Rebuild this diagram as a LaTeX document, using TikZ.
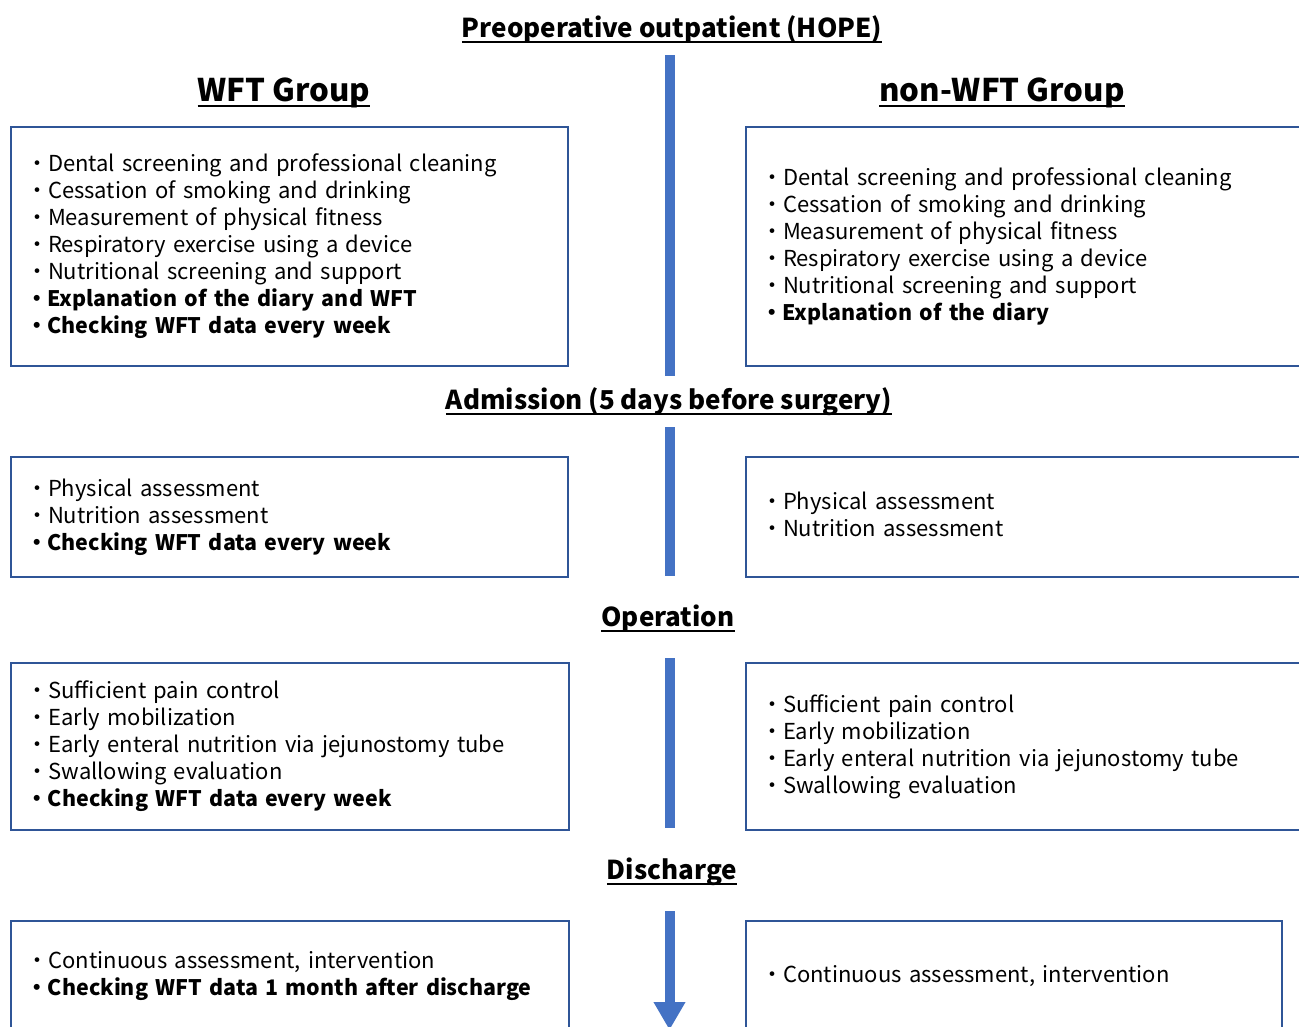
\documentclass[tikz,border=0pt]{standalone}
\usepackage{fontspec}
\setmainfont{Noto Sans CJK JP}
\usetikzlibrary{arrows.meta}
\definecolor{barblue}{HTML}{4472C4}
\definecolor{frameblue}{HTML}{2F5597}
\newcommand\ulined[1]{\setbox0\hbox{#1}\rlap{\rule[-6pt]{\wd0}{2pt}}\box0}
\newcommand\lnstrut{\rule[-5pt]{0pt}{21pt}}
\newcommand\boldln{\fontsize{21.4}{27}\selectfont\bfseries}
\begin{document}
\begin{tikzpicture}[
  x=1pt, y=-1pt,
  heading/.style={font=\fontsize{26}{32}\selectfont\bfseries, inner sep=0pt, anchor=base},
  group/.style={heading, font=\fontsize{31.2}{36}\selectfont\bfseries},
  panel/.style={draw=frameblue, line width=2pt, rectangle, inner xsep=15pt, inner ysep=0pt,
    align=left, font=\fontsize{22}{27}\selectfont,
    execute at begin node=\lnstrut, execute at end node=\lnstrut},
  lpanel/.style={panel, minimum width=557pt, text width=527pt},
  rpanel/.style={panel, minimum width=600pt, text width=570pt},
  bar/.style={draw=barblue, line width=10pt}
]
  \path[use as bounding box, clip] (0,0) rectangle (1299,1026);

  % stage headings
  \node[heading] (title) at (672,37) {\ulined{Preoperative outpatient (HOPE)}};
  \node[group] (wft) at (284,101) {\ulined{WFT Group}};
  \node[group] (nonwft) at (1002,101) {\ulined{non-WFT Group}};
  \node[heading] (admit) at (669,409) {\ulined{Admission (5 days before surgery)}};
  \node[heading] (oper) at (668,626) {\ulined{Operation}};
  \node[heading] (disch) at (672,879) {\ulined{Discharge}};

  % time line
  \coordinate (s1a) at (669.5,55);  \coordinate (s1b) at (669.5,376);
  \coordinate (s2a) at (669.5,427); \coordinate (s2b) at (669.5,576);
  \coordinate (s3a) at (669.5,658); \coordinate (s3b) at (669.5,828);
  \coordinate (s4a) at (669.5,911); \coordinate (s4b) at (669.5,1030);
  \draw[bar] (s1a) -- (s1b);
  \draw[bar] (s2a) -- (s2b);
  \draw[bar] (s3a) -- (s3b);
  \draw[bar, -{Triangle[length=28pt, width=30pt]}] (s4a) -- (s4b);

  % preoperative outpatient
  \node[lpanel, minimum height=239pt] (wpre) at (289.5,246.5) {%
    ・Dental screening and professional cleaning\\
    ・Cessation of smoking and drinking\\
    ・Measurement of physical fitness\\
    ・Respiratory exercise using a device\\
    ・Nutritional screening and support\\
    {\boldln ・Explanation of the diary and WFT}\\
    {\boldln ・Checking WFT data every week}};
  \node[rpanel, minimum height=239pt] (npre) at (1046,246.5) {%
    ・Dental screening and professional cleaning\\
    ・Cessation of smoking and drinking\\
    ・Measurement of physical fitness\\
    ・Respiratory exercise using a device\\
    ・Nutritional screening and support\\
    {\boldln ・Explanation of the diary}};

  % admission
  \node[lpanel, minimum height=120pt] (wadm) at (289.5,517) {%
    ・Physical assessment\\
    ・Nutrition assessment\\
    {\boldln ・Checking WFT data every week}};
  \node[rpanel, minimum height=120pt] (nadm) at (1046,517) {%
    ・Physical assessment\\
    ・Nutrition assessment};

  % operation
  \node[lpanel, minimum width=558pt, minimum height=167pt] (wop) at (290,746.5) {%
    ・Sufficient pain control\\
    ・Early mobilization\\
    ・Early enteral nutrition via jejunostomy tube\\
    ・Swallowing evaluation\\
    {\boldln ・Checking WFT data every week}};
  \node[rpanel, minimum height=167pt] (nop) at (1046,746.5) {%
    ・Sufficient pain control\\
    ・Early mobilization\\
    ・Early enteral nutrition via jejunostomy tube\\
    ・Swallowing evaluation};

  % discharge
  \node[lpanel, minimum width=558pt, minimum height=110pt] (wdis) at (290,976) {%
    ・Continuous assessment, intervention\\
    {\boldln ・Checking WFT data 1 month after discharge}};
  \node[panel, minimum width=536pt, text width=506pt, minimum height=110pt] (ndis) at (1014,976) {%
    ・Continuous assessment, intervention};
\end{tikzpicture}
\end{document}
